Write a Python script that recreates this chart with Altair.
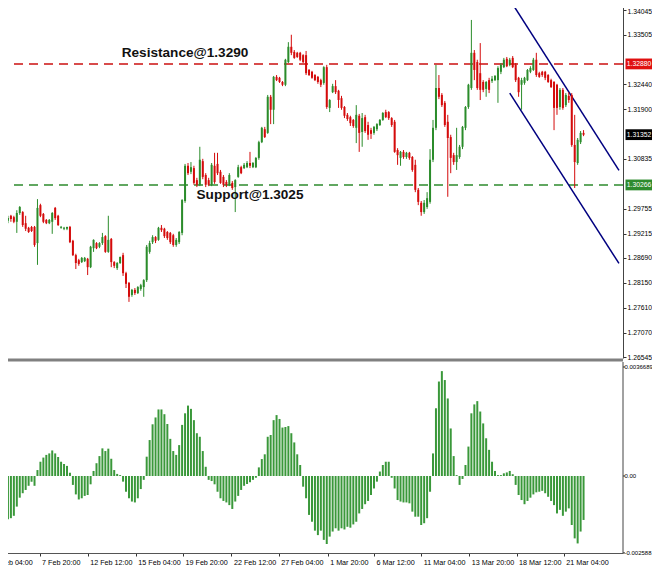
import altair as alt
import pandas as pd

# ---------------- data ----------------
opens = [1.2962,1.2949,1.2960,1.2957,1.2947,1.2966,1.2968,1.2944,1.2934,1.2936,
1.2936,1.2901,1.2983,1.2964,1.2951,1.2944,1.2947,1.2977,1.2960,1.2934,
1.2932,1.2932,1.2936,1.2906,1.2875,1.2864,1.2860,1.2862,1.2867,1.2849,
1.2890,1.2901,1.2893,1.2901,1.2916,1.2882,1.2910,1.2860,1.2847,1.2858,
1.2875,1.2836,1.2815,1.2789,1.2800,1.2793,1.2802,1.2806,1.2821,1.2882,
1.2903,1.2914,1.2908,1.2934,1.2932,1.2925,1.2923,1.2918,1.2897,1.2903,
1.2923,1.2992,1.3068,1.3055,1.3063,1.3037,1.3027,1.3078,1.3048,1.3037,
1.3027,1.3068,1.3072,1.3055,1.3044,1.3033,1.3027,1.3031,1.3022,1.3044,
1.3065,1.3063,1.3065,1.3074,1.3065,1.3065,1.3085,1.3119,1.3147,1.3139,
1.3217,1.3189,1.3260,1.3258,1.3249,1.3243,1.3292,1.3325,1.3314,1.3312,
1.3312,1.3307,1.3307,1.3275,1.3271,1.3264,1.3260,1.3253,1.3247,1.3281,
1.3193,1.3227,1.3240,1.3230,1.3214,1.3195,1.3178,1.3173,1.3167,1.3150,
1.3176,1.3141,1.3173,1.3156,1.3145,1.3139,1.3147,1.3156,1.3167,1.3184,
1.3184,1.3171,1.3163,1.3102,1.3085,1.3098,1.3087,1.3096,1.3087,1.3070,
1.3016,1.2988,1.2968,1.2979,1.2990,1.3081,1.3150,1.3236,1.3221,1.3204,
1.3163,1.3130,1.3091,1.3076,1.3087,1.3109,1.3150,1.3195,1.3236,1.3312,
1.3292,1.3268,1.3249,1.3234,1.3253,1.3251,1.3253,1.3253,1.3271,1.3281,
1.3299,1.3286,1.3301,1.3286,1.3258,1.3243,1.3247,1.3253,1.3271,1.3275,
1.3297,1.3268,1.3271,1.3271,1.3264,1.3253,1.3249,1.3243,1.3195,1.3232,
1.3199,1.3219,1.3221,1.3113,1.3074,1.3119,1.3139]

highs = [1.2966,1.2960,1.2962,1.2960,1.2972,1.2981,1.2970,1.2960,1.2936,1.2938,
1.2938,1.2996,1.2986,1.2966,1.2953,1.2953,1.2968,1.2979,1.2962,1.2938,
1.2936,1.2936,1.2938,1.2908,1.2878,1.2867,1.2871,1.2871,1.2869,1.2895,
1.2909,1.2903,1.2903,1.2923,1.2918,1.2960,1.2912,1.2862,1.2860,1.2872,
1.2880,1.2839,1.2817,1.2802,1.2804,1.2808,1.2813,1.2823,1.2897,1.2906,
1.2918,1.2916,1.2936,1.2940,1.2934,1.2927,1.2925,1.2921,1.2912,1.2927,
1.2996,1.3072,1.3074,1.3076,1.3068,1.3042,1.3109,1.3083,1.3052,1.3042,
1.3074,1.3096,1.3096,1.3059,1.3048,1.3037,1.3052,1.3035,1.3039,1.3070,
1.3068,1.3074,1.3078,1.3098,1.3076,1.3087,1.3122,1.3152,1.3152,1.3221,
1.3221,1.3262,1.3264,1.3260,1.3251,1.3299,1.3335,1.3351,1.3318,1.3314,
1.3314,1.3309,1.3316,1.3277,1.3273,1.3266,1.3262,1.3256,1.3283,1.3286,
1.3212,1.3245,1.3253,1.3232,1.3219,1.3197,1.3182,1.3176,1.3169,1.3199,
1.3180,1.3182,1.3178,1.3163,1.3150,1.3154,1.3160,1.3169,1.3184,1.3189,
1.3186,1.3173,1.3167,1.3106,1.3100,1.3102,1.3098,1.3098,1.3089,1.3081,
1.3020,1.2992,1.2994,1.3011,1.3104,1.3167,1.3286,1.3264,1.3225,1.3208,
1.3178,1.3135,1.3096,1.3150,1.3113,1.3154,1.3197,1.3245,1.3383,1.3318,
1.3297,1.3333,1.3253,1.3251,1.3258,1.3262,1.3264,1.3283,1.3290,1.3301,
1.3303,1.3301,1.3305,1.3290,1.3260,1.3258,1.3260,1.3277,1.3283,1.3301,
1.3312,1.3271,1.3273,1.3273,1.3266,1.3256,1.3251,1.3245,1.3236,1.3236,
1.3225,1.3227,1.3225,1.3178,1.3128,1.3143,1.3145]

lows = [1.2923,1.2944,1.2947,1.2944,1.2923,1.2962,1.2936,1.2927,1.2923,1.2925,
1.2893,1.2854,1.2957,1.2944,1.2942,1.2942,1.2921,1.2951,1.2938,1.2932,
1.2929,1.2929,1.2901,1.2873,1.2845,1.2852,1.2858,1.2860,1.2832,1.2847,
1.2882,1.2888,1.2890,1.2897,1.2880,1.2880,1.2849,1.2847,1.2843,1.2856,
1.2830,1.2804,1.2774,1.2785,1.2789,1.2791,1.2798,1.2785,1.2817,1.2878,
1.2899,1.2901,1.2906,1.2925,1.2912,1.2908,1.2899,1.2893,1.2893,1.2899,
1.2918,1.2988,1.3048,1.3050,1.3027,1.3022,1.3024,1.3039,1.3022,1.3024,
1.3024,1.3029,1.3048,1.3029,1.3022,1.3022,1.3024,1.3016,1.2968,1.3042,
1.3050,1.3061,1.3063,1.3063,1.3063,1.3063,1.3081,1.3117,1.3128,1.3137,
1.3158,1.3158,1.3251,1.3247,1.3240,1.3240,1.3290,1.3307,1.3299,1.3301,
1.3294,1.3290,1.3264,1.3262,1.3256,1.3251,1.3245,1.3238,1.3243,1.3191,
1.3184,1.3225,1.3223,1.3193,1.3189,1.3171,1.3165,1.3154,1.3150,1.3117,
1.3098,1.3109,1.3139,1.3124,1.3126,1.3135,1.3143,1.3154,1.3165,1.3171,
1.3167,1.3152,1.3096,1.3070,1.3068,1.3083,1.3083,1.3081,1.3055,1.3011,
1.2983,1.2960,1.2964,1.2975,1.2986,1.3076,1.3145,1.3212,1.3195,1.3152,
1.3001,1.3052,1.3070,1.3059,1.3083,1.3104,1.3145,1.3191,1.3232,1.3253,
1.3232,1.3210,1.3227,1.3217,1.3225,1.3247,1.3251,1.3204,1.3266,1.3279,
1.3281,1.3283,1.3279,1.3249,1.3217,1.3189,1.3243,1.3251,1.3268,1.3273,
1.3260,1.3258,1.3260,1.3253,1.3247,1.3236,1.3145,1.3178,1.3189,1.3189,
1.3195,1.3204,1.3109,1.3020,1.3070,1.3115,1.3132]

closes = [1.2944,1.2955,1.2953,1.2947,1.2966,1.2979,1.2940,1.2932,1.2925,1.2927,
1.2897,1.2977,1.2960,1.2947,1.2944,1.2951,1.2966,1.2955,1.2940,1.2936,
1.2934,1.2936,1.2903,1.2875,1.2858,1.2856,1.2869,1.2869,1.2849,1.2893,
1.2908,1.2890,1.2901,1.2914,1.2882,1.2908,1.2860,1.2852,1.2858,1.2871,
1.2836,1.2813,1.2785,1.2800,1.2793,1.2806,1.2810,1.2821,1.2893,1.2901,
1.2914,1.2906,1.2934,1.2929,1.2916,1.2912,1.2903,1.2897,1.2908,1.2925,
1.2994,1.3068,1.3052,1.3065,1.3031,1.3027,1.3081,1.3044,1.3027,1.3027,
1.3070,1.3033,1.3052,1.3031,1.3027,1.3027,1.3048,1.3020,1.3037,1.3065,
1.3052,1.3070,1.3074,1.3068,1.3074,1.3085,1.3119,1.3150,1.3130,1.3217,
1.3189,1.3260,1.3253,1.3249,1.3243,1.3297,1.3325,1.3312,1.3301,1.3303,
1.3297,1.3292,1.3268,1.3264,1.3258,1.3253,1.3249,1.3243,1.3281,1.3195,
1.3210,1.3240,1.3227,1.3210,1.3193,1.3176,1.3169,1.3160,1.3154,1.3178,
1.3139,1.3171,1.3143,1.3135,1.3137,1.3152,1.3158,1.3167,1.3182,1.3173,
1.3171,1.3156,1.3098,1.3091,1.3098,1.3087,1.3096,1.3085,1.3059,1.3016,
1.2990,1.2968,1.2988,1.2998,1.3081,1.3150,1.3236,1.3217,1.3199,1.3156,
1.3128,1.3085,1.3076,1.3091,1.3109,1.3152,1.3195,1.3243,1.3312,1.3275,
1.3236,1.3232,1.3232,1.3249,1.3232,1.3256,1.3262,1.3279,1.3286,1.3297,
1.3283,1.3297,1.3281,1.3253,1.3227,1.3253,1.3258,1.3275,1.3279,1.3297,
1.3264,1.3260,1.3264,1.3258,1.3249,1.3238,1.3193,1.3193,1.3232,1.3193,
1.3221,1.3210,1.3113,1.3076,1.3124,1.3139,1.3135]

osma = [-0.00137,-0.00146,-0.00142,-0.00134,-0.00103,-0.00073,-0.00058,-0.00047,-0.00033,-0.00019,-0.00033,
0.00020,0.00048,0.00062,0.00071,0.00076,0.00086,0.00076,0.00064,0.00048,0.00040,0.00034,0.00011,
-0.00030,-0.00062,-0.00079,-0.00075,-0.00067,-0.00064,-0.00028,
0.00017,0.00043,0.00067,0.00093,0.00084,0.00092,0.00058,0.00020,0.00007,0.00003,
-0.00019,-0.00053,-0.00075,-0.00086,-0.00089,-0.00075,-0.00044,-0.00013,
0.00065,0.00121,0.00174,0.00197,0.00224,0.00224,0.00208,0.00175,0.00125,0.00084,0.00071,
0.00104,0.00172,0.00211,0.00237,0.00226,0.00188,0.00144,0.00132,0.00084,0.00031,
-0.00013,-0.00017,-0.00028,-0.00053,-0.00075,-0.00084,-0.00089,-0.00098,-0.00111,-0.00086,
-0.00067,-0.00047,-0.00033,-0.00027,-0.00021,-0.00013,-0.00006,
0.00029,0.00057,0.00073,0.00132,0.00138,0.00188,0.00205,0.00192,0.00163,0.00165,0.00168,
0.00144,0.00113,0.00073,0.00037,
-0.00036,-0.00075,-0.00131,-0.00154,-0.00184,-0.00199,-0.00184,-0.00215,-0.00229,-0.00204,
-0.00187,-0.00176,-0.00184,-0.00176,-0.00180,-0.00171,-0.00174,-0.00163,-0.00154,-0.00126,
-0.00111,-0.00095,-0.00084,-0.00064,-0.00042,-0.00019,
0.00015,0.00037,0.00048,0.00048,
-0.00006,-0.00042,-0.00081,-0.00086,-0.00089,-0.00089,-0.00092,-0.00120,-0.00137,-0.00137,
-0.00165,-0.00159,-0.00142,-0.00053,
0.00076,0.00228,0.00318,0.00353,0.00323,0.00261,0.00160,0.00067,0.00003,
-0.00030,-0.00010,
0.00037,0.00099,0.00211,0.00241,0.00252,0.00217,0.00177,0.00127,0.00088,0.00048,
0.00017,0.00003,0.00003,0.00009,0.00012,0.00017,0.00006,
-0.00030,-0.00064,-0.00081,-0.00095,-0.00084,-0.00073,-0.00062,-0.00055,-0.00053,-0.00050,
-0.00058,-0.00070,-0.00084,-0.00098,-0.00126,-0.00114,-0.00134,-0.00120,-0.00109,-0.00165,
-0.00210,-0.00227,-0.00187,-0.00148]

price_ticks = [1.34045, 1.33505, 1.32440, 1.31900, 1.30835, 1.29755, 1.29215,
               1.28690, 1.28150, 1.27610, 1.27070, 1.26545]
osma_ticks = [0.0036689, 0.0, -0.002588]
osma_tick_labels = ["0.0036689", "0.00", "-0.002588"]

date_ticks = [0, 11.7, 28, 44.3, 60.3, 76.7, 92.7, 109.3, 125, 141, 157.3, 173.3, 189.3]
date_labels = ["5 Feb 04:00", "7 Feb 20:00", "12 Feb 12:00", "15 Feb 04:00", "19 Feb 20:00",
               "22 Feb 12:00", "27 Feb 04:00", "1 Mar 20:00", "6 Mar 12:00", "11 Mar 04:00",
               "13 Mar 20:00", "18 Mar 12:00", "21 Mar 04:00"]

resistance_level = 1.32880
support_level = 1.30266
last_price = 1.31352

ann_texts = ["Resistance@1.3290", "Support@1.3025"]
ann_bars = [61, 83]
ann_prices = [1.3312, 1.3004]

chan_names = ["upper", "upper", "lower", "lower"]
chan_bars = [171.7, 208, 171, 208]
chan_prices = [1.3420, 1.3058, 1.3225, 1.2857]

# ---------------- styling ----------------
GREEN = "#2b8c2b"
RED = "#d40b0b"
FONT = "Liberation Sans"
AXIS_COLOR = "#444"

n = min(len(opens), len(highs), len(lows), len(closes))
candles = pd.DataFrame({
    "bar": list(range(n)),
    "open": opens[:n], "high": highs[:n], "low": lows[:n], "close": closes[:n],
})
candles["dir"] = ["up" if c >= o else "down" for o, c in zip(candles["open"], candles["close"])]
osma_df = pd.DataFrame({"bar": list(range(len(osma))), "osma": osma})


def chain_expr(vals, labels, tol):
    expr = "''"
    for v, t in reversed(list(zip(vals, labels))):
        expr = f"abs(datum.value - ({v})) < {tol} ? '{t}' : " + expr
    return expr


x_axis = alt.Axis(values=date_ticks, labelExpr=chain_expr(date_ticks, date_labels, 0.05),
                  orient="bottom", title=None, grid=False, labelAlign="left",
                  labelOffset={"condition": {"test": "datum.value < 1", "value": -11}, "value": 2},
                  labelPadding=2, tickSize=3, labelFontSize=7.2,
                  labelFont=FONT, labelColor="#000", domainColor="#555",
                  tickColor="#333", labelOverlap=False, labelFlush=False)
x_scale = alt.Scale(domain=[0, 207.67], nice=False, zero=False)


def X():
    return alt.X("bar:Q", scale=x_scale, axis=x_axis)


pscale = alt.Scale(domain=[1.26528, 1.34196], range=[355, 0], nice=False, zero=False)
mscale = alt.Scale(domain=[-0.002592, 0.003837], range=[550, 359], nice=False, zero=False)

p_axis = alt.Axis(orient="right", values=price_ticks, format=".5f", title=None, grid=False,
                  tickSize=3, labelPadding=1, labelFontSize=6.8, labelFont=FONT,
                  labelOffset={"condition": {"test": "datum.value > 1.34", "value": 2}, "value": 0},
                  labelColor="#000", domainColor=AXIS_COLOR, tickColor="#333",
                  labelOverlap=False, labelFlush=False)


def PY(field):
    return alt.Y(field, scale=pscale, axis=p_axis)


dir_color = alt.Color("dir:N", scale=alt.Scale(domain=["up", "down"], range=[GREEN, RED]), legend=None)

res_rule = alt.Chart(pd.DataFrame({"price": [resistance_level]})).mark_rule(
    color="#cc1010", strokeWidth=1.5, strokeDash=[9, 6]).encode(y=PY("price:Q"))
sup_rule = alt.Chart(pd.DataFrame({"price": [support_level]})).mark_rule(
    color="#2e8b2e", strokeWidth=1.5, strokeDash=[9, 6]).encode(y=PY("price:Q"))

channel = alt.Chart(pd.DataFrame({"line": chan_names, "bar": chan_bars, "price": chan_prices})).mark_line(
    color="#000080", strokeWidth=1.5, clip=True).encode(
    x=X(), y=PY("price:Q"), detail="line:N")

wicks = alt.Chart(candles).mark_rule(strokeWidth=1, clip=True).encode(
    x=X(), y=PY("low:Q"), y2="high:Q", color=dir_color)
bodies = alt.Chart(candles).mark_bar(size=2, clip=True).encode(
    x=X(), y=PY("open:Q"), y2="close:Q", color=dir_color)

ann = alt.Chart(pd.DataFrame({"text": ann_texts, "bar": ann_bars, "price": ann_prices})).mark_text(
    font=FONT, fontSize=13.6, fontWeight="bold", color="#111", align="center", baseline="middle").encode(
    x=X(), y=PY("price:Q"), text="text:N")

boxes_df = pd.DataFrame({"price": [resistance_level, support_level, last_price],
                         "kind": ["res", "sup", "last"]})
boxes = alt.Chart(boxes_df).mark_point(
    shape="M-1,-0.4H1V0.4H-1Z", filled=True, size=729, opacity=1, strokeWidth=0).encode(
    x=alt.value(639), y=PY("price:Q"),
    color=alt.Color("kind:N", scale=alt.Scale(domain=["res", "sup", "last"],
                                              range=["#e01010", "#2e8b2e", "#000000"]), legend=None))
box_text = alt.Chart(boxes_df).mark_text(
    color="white", font=FONT, fontSize=6.8, align="center", baseline="middle").encode(
    x=alt.value(639), y=PY("price:Q"), text=alt.Text("price:Q", format=".5f"))

sep = alt.Chart(pd.DataFrame({"a": [0]})).mark_rule(color="#808080", strokeWidth=3).encode(
    y=alt.value(357))

price_group = alt.layer(res_rule, sup_rule, channel, wicks, bodies, ann, boxes, box_text, sep
                        ).resolve_scale(color="independent")

# lower panel (OsMA histogram) with its own scale; its labels drawn as text marks
MY = alt.Y("osma:Q", scale=mscale, axis=None)
macd = alt.Chart(osma_df).mark_bar(size=2, color="#3a983a", clip=True).encode(
    x=X(), y=MY, y2=alt.datum(0))
m_df = pd.DataFrame({"osma": osma_ticks, "label": osma_tick_labels})
m_domain = alt.Chart(pd.DataFrame({"osma": [0.0]})).mark_rule(color=AXIS_COLOR, strokeWidth=1).encode(
    x=alt.value(623), y=alt.value(359), y2=alt.value(550))
m_ticks = alt.Chart(m_df).mark_rule(color="#333", strokeWidth=1).encode(
    x=alt.value(623), x2=alt.value(625), y=MY)
m_labels = alt.Chart(m_df).mark_text(align="left", baseline="middle", font=FONT, fontSize=6,
                                     color="#000").encode(
    x=alt.value(624.5), y=MY, text="label:N")
macd_group = alt.layer(macd, m_domain, m_ticks, m_labels)

chart = alt.layer(price_group, macd_group).resolve_scale(y="independent").properties(
    width=623, height=550,
    autosize=alt.AutoSizeParams(type="none"),
    padding={"left": -8, "top": -5, "right": 29, "bottom": 13},
    background="white",
).configure_view(strokeWidth=0)

chart.save("out.html", embed_options={"renderer": "svg", "actions": False})
